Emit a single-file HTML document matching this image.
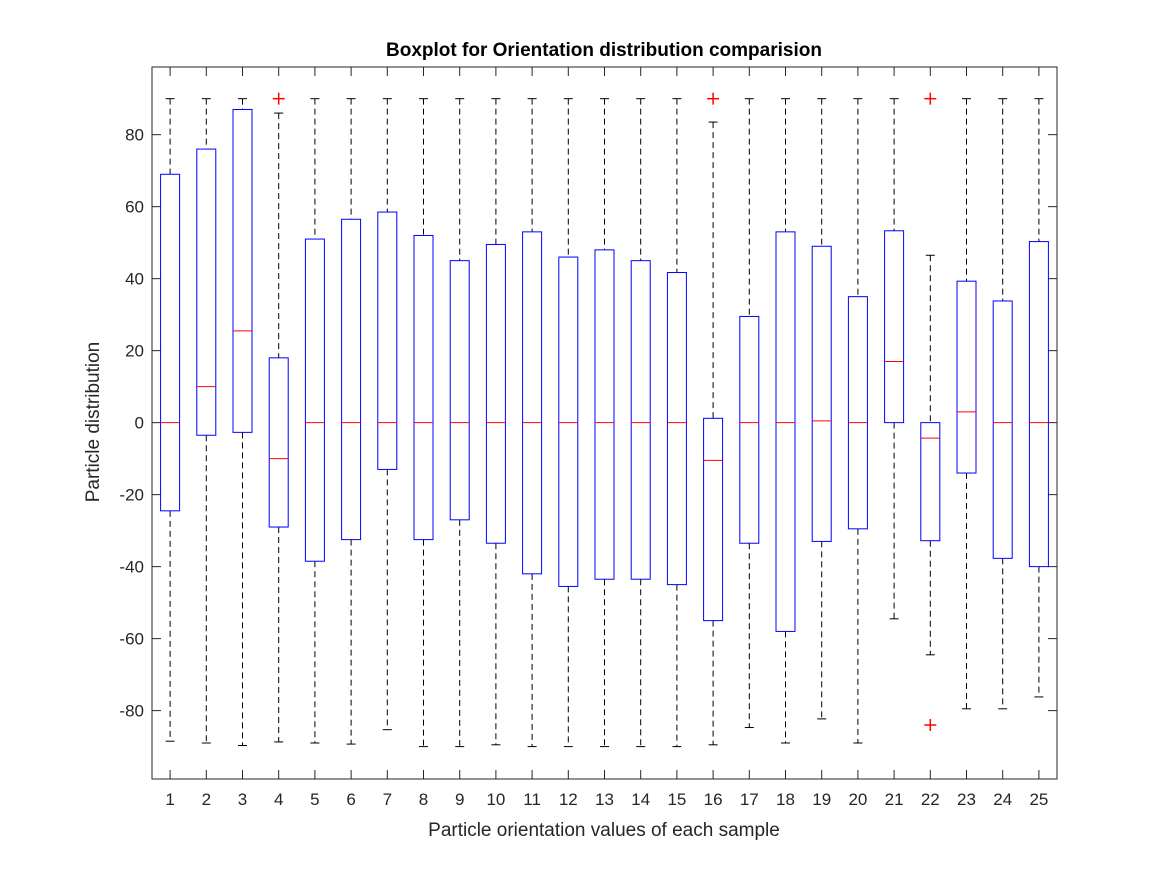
<!DOCTYPE html>
<html><head><meta charset="utf-8"><style>body{margin:0;background:#fff}svg{display:block}text{font-family:"Liberation Sans",Arial,sans-serif;fill:#262626}</style></head>
<body>
<svg id="chart" width="1167" height="875" xmlns="http://www.w3.org/2000/svg">
<rect width="1167" height="875" fill="#fff"/>
<g id="plot"></g>
<text x="604" y="56" text-anchor="middle" font-size="19" font-weight="bold" style="fill:#000">Boxplot for Orientation distribution comparision</text>
<text x="604" y="836" text-anchor="middle" font-size="19">Particle orientation values of each sample</text>
<text transform="translate(99,422) rotate(-90)" text-anchor="middle" font-size="19">Particle distribution</text>
</svg>
<script>
const categories=[1,2,3,4,5,6,7,8,9,10,11,12,13,14,15,16,17,18,19,20,21,22,23,24,25];
const q3=[69,76,87,18,51,56.5,58.5,52,45,49.5,53,46,48,45,41.7,1.2,29.5,53,49,35,53.3,0,39.3,33.8,50.3];
const medians=[0,10,25.5,-10,0,0,0,0,0,0,0,0,0,0,0,-10.5,0,0,0.5,0,17,-4.3,3,0,0];
const q1=[-24.5,-3.5,-2.7,-29,-38.5,-32.5,-13,-32.5,-27,-33.5,-42,-45.5,-43.5,-43.5,-45,-55,-33.5,-58,-33,-29.5,0,-32.8,-14,-37.7,-40];
const lowerWhisker=[-88.5,-89,-89.7,-88.7,-89,-89.3,-85.3,-90,-90,-89.5,-90,-90,-90,-90,-90,-89.5,-84.7,-89,-82.3,-89,-54.5,-64.5,-79.5,-79.5,-76.2];
const upperWhisker=[90,90,90,86,90,90,90,90,90,90,90,90,90,90,90,83.5,90,90,90,90,90,46.5,90,90,90];
const outliers=[[],[],[],[90],[],[],[],[],[],[],[],[],[],[],[],[90],[],[],[],[],[],[90,-84],[],[],[]];
const yTicks=[-80,-60,-40,-20,0,20,40,60,80];
const L=152,R=1057,T=67,B=779,yMin=-99,yMax=98.8;
const xs=c=>L+(c-0.5)/25*(R-L);
const ys=v=>B-(v-yMin)/(yMax-yMin)*(B-T);
const g=document.getElementById('plot');const NS='http://www.w3.org/2000/svg';
function mk(t,a,p){const e=document.createElementNS(NS,t);for(const k in a)e.setAttribute(k,a[k]);(p||g).appendChild(e);return e;}
const frame=mk('rect',{x:L,y:T,width:R-L,height:B-T,fill:'none',stroke:'#262626','stroke-width':1});


yTicks.forEach(v=>{const y=ys(v);
const t1=mk('line',{x1:L,x2:L+9,y1:y,y2:y,stroke:'#262626'});


mk('line',{x1:R,x2:R-9,y1:y,y2:y,stroke:'#262626'});
const tx=mk('text',{x:L-8,y:y+6,'text-anchor':'end','font-size':17});tx.textContent=v;

});
const hw=9.5,cw=4.5;
categories.forEach((c,i)=>{const x=xs(c);
mk('line',{x1:x,x2:x,y1:B,y2:B-9,stroke:'#262626'});mk('line',{x1:x,x2:x,y1:T,y2:T+9,stroke:'#262626'});
const tx=mk('text',{x:x,y:805,'text-anchor':'middle','font-size':17});tx.textContent=c;


const grp=mk('g',{});


mk('line',{x1:x,x2:x,y1:ys(upperWhisker[i]),y2:ys(q3[i]),stroke:'#000','stroke-dasharray':'6,4'},grp);
mk('line',{x1:x,x2:x,y1:ys(q1[i]),y2:ys(lowerWhisker[i]),stroke:'#000','stroke-dasharray':'6,4'},grp);
mk('line',{x1:x-cw,x2:x+cw,y1:ys(upperWhisker[i]),y2:ys(upperWhisker[i]),stroke:'#000'},grp);
mk('line',{x1:x-cw,x2:x+cw,y1:ys(lowerWhisker[i]),y2:ys(lowerWhisker[i]),stroke:'#000'},grp);
mk('rect',{x:x-hw,y:ys(q3[i]),width:2*hw,height:Math.max(0.5,ys(q1[i])-ys(q3[i])),fill:'none',stroke:'#0000ff'},grp);
mk('line',{x1:x-hw,x2:x+hw,y1:ys(medians[i]),y2:ys(medians[i]),stroke:'#ff0000'},grp);
outliers[i].forEach(o=>{const y=ys(o);
mk('line',{x1:x-6,x2:x+6,y1:y,y2:y,stroke:'#ff0000','stroke-width':1.5},grp);
mk('line',{x1:x,x2:x,y1:y-6,y2:y+6,stroke:'#ff0000','stroke-width':1.5},grp);});
});
</script>
</body></html>
